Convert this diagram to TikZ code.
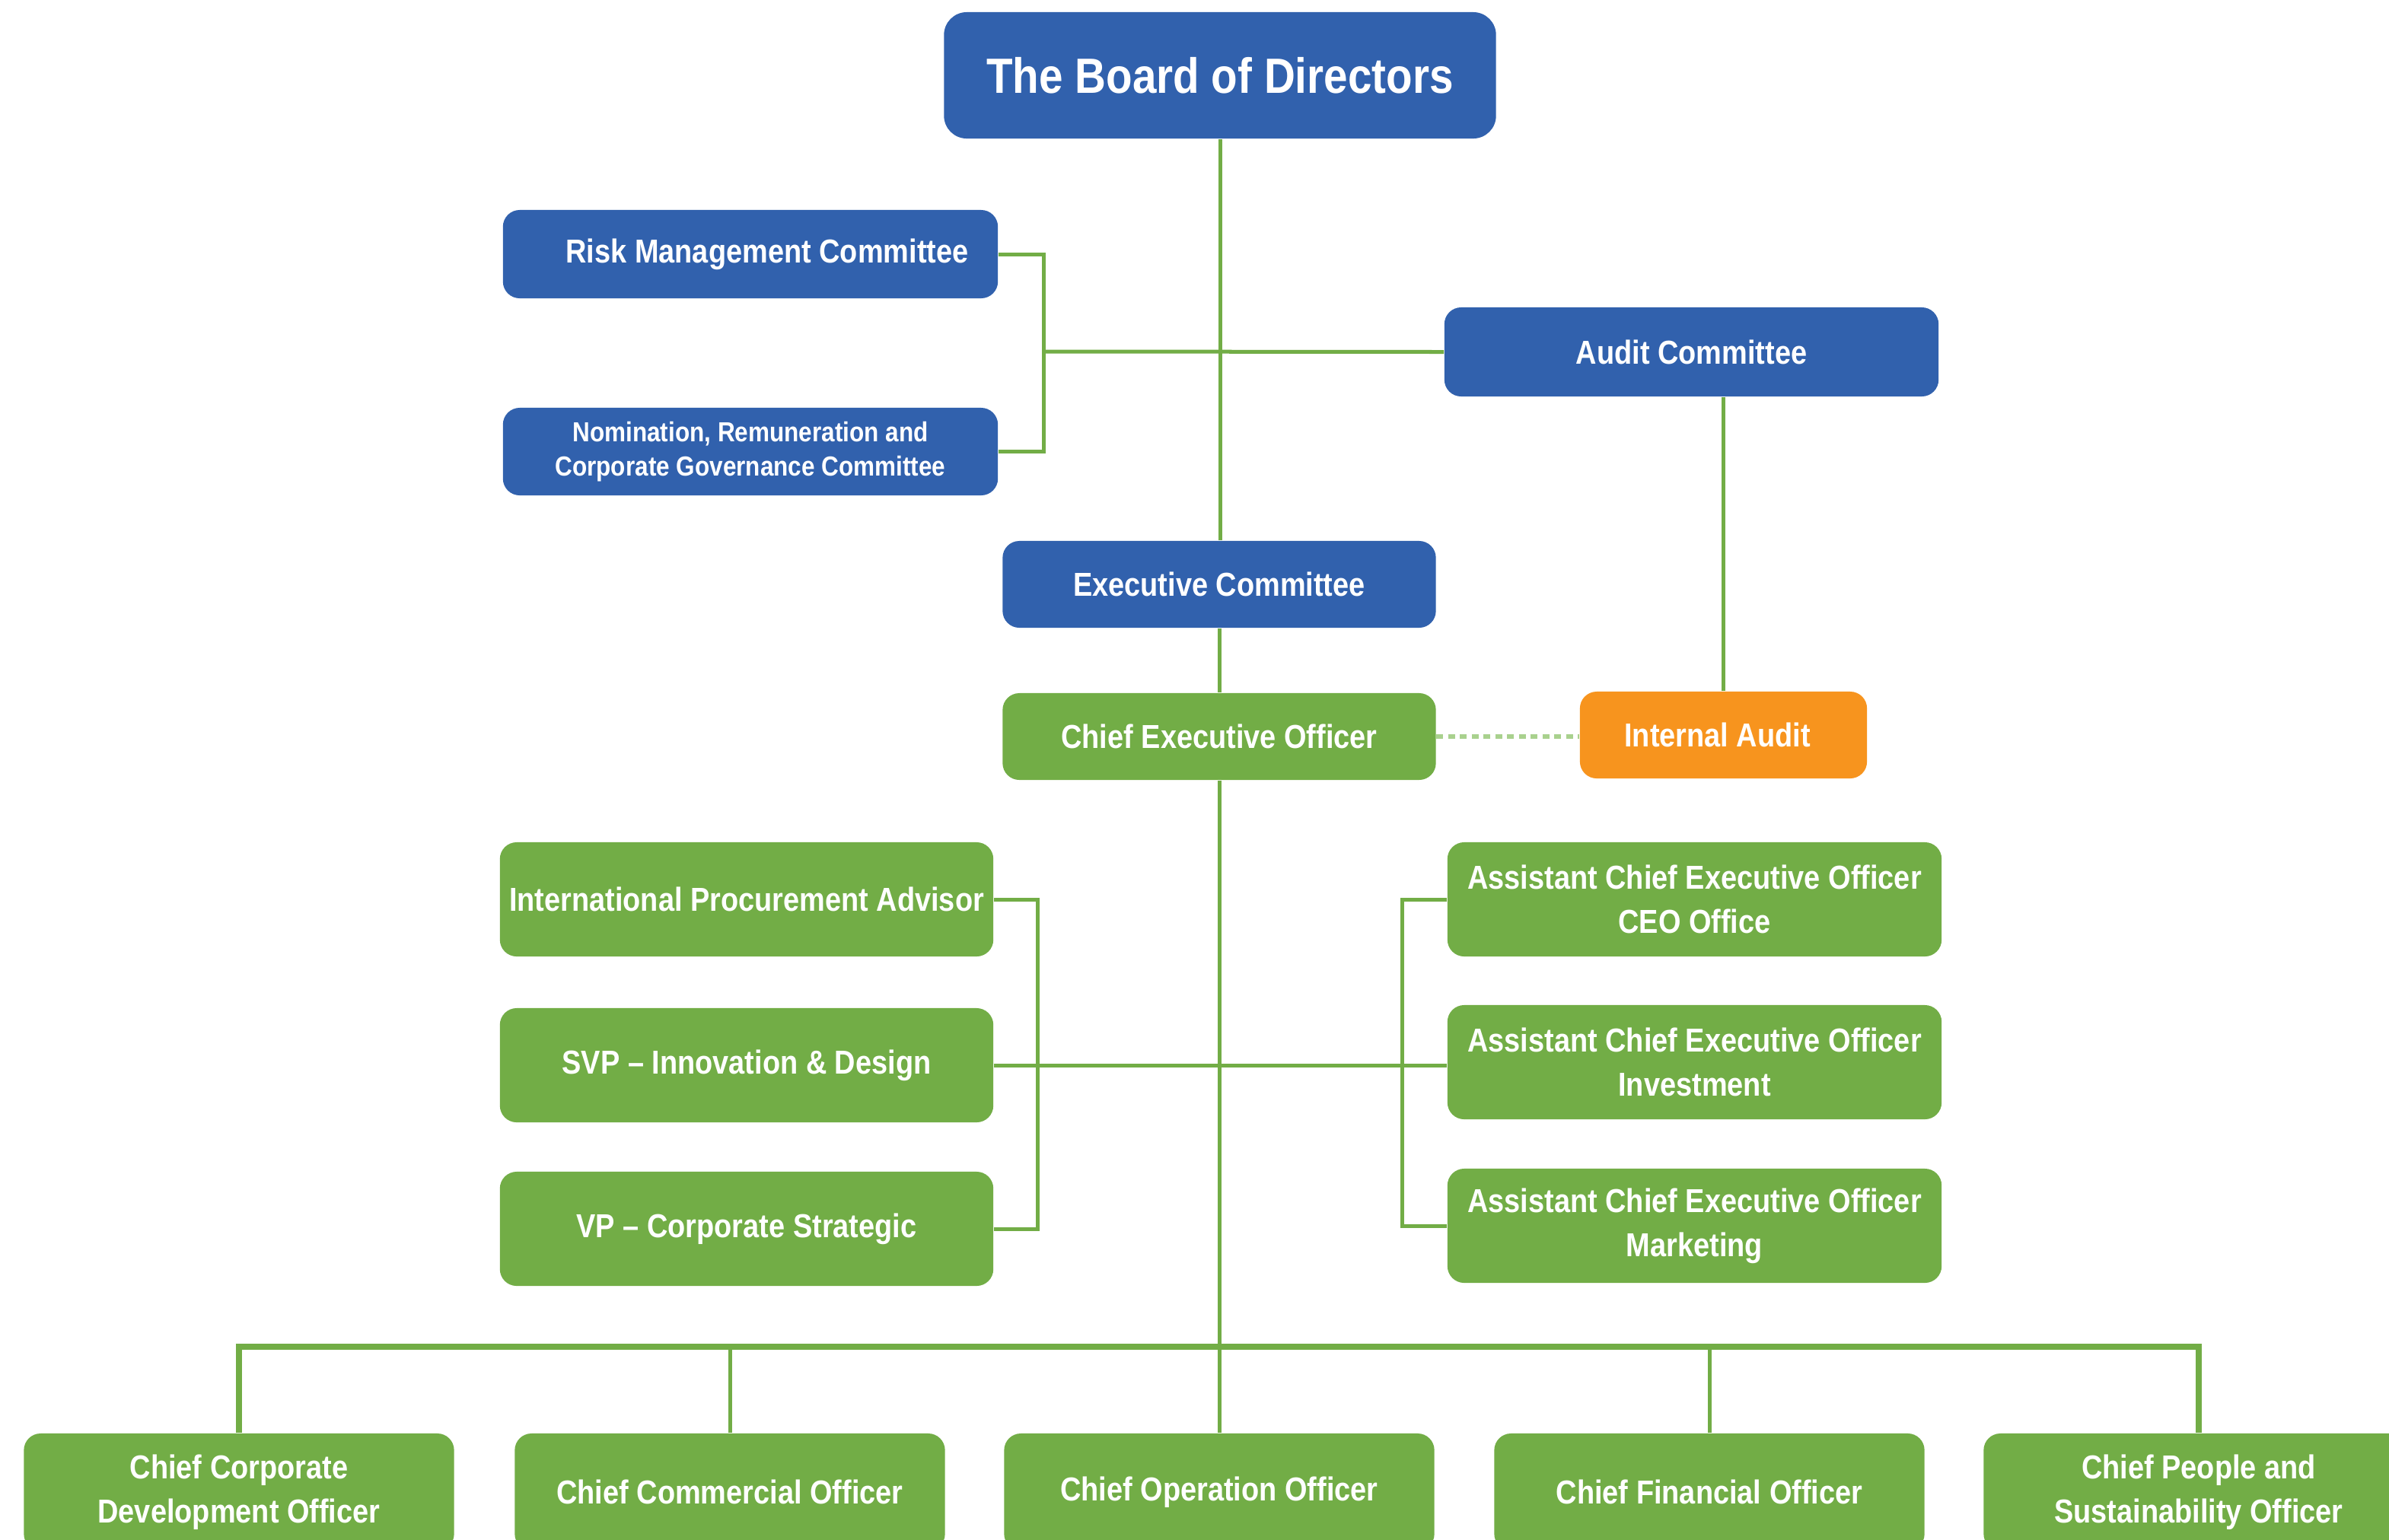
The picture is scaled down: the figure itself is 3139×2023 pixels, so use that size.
\documentclass[tikz,border=0pt]{standalone}
\usepackage{fontspec}
\newfontfamily\cfont[FakeStretch=0.87,Ligatures=TeX]{Liberation Sans}
\definecolor{cblue}{RGB}{49,97,173}
\definecolor{cgreen}{RGB}{114,173,70}
\definecolor{corange}{RGB}{247,148,30}
\definecolor{cdot}{RGB}{169,209,142}
\tikzset{
  box/.style={rectangle, rounded corners=0.22cm, text=white, align=center, inner sep=0pt,
    font=\cfont\bfseries\fontsize{12.4}{16.5}\selectfont},
  bluebox/.style={box, fill=cblue},
  greenbox/.style={box, fill=cgreen},
  orangebox/.style={box, fill=corange},
  link/.style={draw=cgreen, line width=0.05cm},
  buslink/.style={draw=cgreen, line width=0.075cm},
  dotlink/.style={draw=cdot, line width=0.06cm, dash pattern=on 0.09cm off 0.065cm},
}
\begin{document}
\begin{tikzpicture}[x=0.01cm, y=-0.01cm]
\clip (0,0) rectangle (3139,2023);
\fill[white] (0,0) rectangle (3139,2023);
% nodes
\node[bluebox, minimum width=7.25cm, minimum height=1.66cm, rounded corners=0.3cm,
  font=\cfont\bfseries\fontsize{18.5}{22}\selectfont] (board) at (1603,99) {The Board of Directors};
\node[bluebox, minimum width=6.5cm, minimum height=1.16cm] (risk) at (986,334) {\hspace*{0.44cm}Risk Management Committee};
\node[bluebox, minimum width=6.5cm, minimum height=1.15cm,
  font=\cfont\bfseries\fontsize{10.3}{13}\selectfont] (nom) at (986,593.5) {Nomination, Remuneration and\\Corporate Governance Committee};
\node[bluebox, minimum width=6.49cm, minimum height=1.17cm] (audit) at (2222.5,462.5) {Audit Committee};
\node[bluebox, minimum width=5.69cm, minimum height=1.14cm] (exec) at (1602,768) {Executive Committee};
\node[greenbox, minimum width=5.69cm, minimum height=1.14cm] (ceo) at (1602,968) {Chief Executive Officer};
\node[orangebox, minimum width=3.77cm, minimum height=1.14cm] (ia) at (2264.5,966) {Internal Audit\hspace*{0.16cm}};
\node[greenbox, minimum width=6.48cm, minimum height=1.5cm] (ipa) at (981,1182) {International Procurement Advisor};
\node[greenbox, minimum width=6.48cm, minimum height=1.5cm] (svp) at (981,1400) {SVP -- Innovation \& Design};
\node[greenbox, minimum width=6.48cm, minimum height=1.5cm] (vp) at (981,1615) {VP -- Corporate Strategic};
\node[greenbox, minimum width=6.49cm, minimum height=1.5cm] (a1) at (2226.5,1182) {Assistant Chief Executive Officer\\CEO Office};
\node[greenbox, minimum width=6.49cm, minimum height=1.5cm] (a2) at (2226.5,1396) {Assistant Chief Executive Officer\\Investment};
\node[greenbox, minimum width=6.49cm, minimum height=1.5cm] (a3) at (2226.5,1611) {Assistant Chief Executive Officer\\Marketing};
\node[greenbox, minimum width=5.65cm, minimum height=1.54cm] (ccdo) at (314,1961) {Chief Corporate\\Development Officer};
\node[greenbox, minimum width=5.65cm, minimum height=1.54cm] (cco) at (959,1961) {Chief Commercial Officer};
\node[greenbox, minimum width=5.65cm, minimum height=1.54cm] (coo) at (1602,1961) {Chief Operation Officer};
\node[greenbox, minimum width=5.65cm, minimum height=1.54cm] (cfo) at (2246,1961) {Chief Financial Officer};
\node[greenbox, minimum width=5.65cm, minimum height=1.54cm] (cpso) at (2889,1961) {Chief People and\\Sustainability Officer};
% coordinates
\coordinate (kj) at (1371,462);
\coordinate (lb) at (1363,1400);
\coordinate (rb) at (1842,1400);
\coordinate (bus) at (1602,1770);
% connectors
\draw[link] (board.south) -- (board.south |- exec.north);
\draw[link] (risk.east) -| (kj);
\draw[link] (nom.east) -| (kj);
\draw[link] (kj) -- (audit.west);
\draw[link] (ia.north) -- (ia.north |- audit.south);
\draw[link] (exec.south) -- (ceo.north);
\draw[dotlink] (ceo.east) -- (ceo.east -| ia.west);
\draw[link] (ceo.south) -- (bus);
\draw[link] (bus) -- (coo.north);
\draw[link] (ipa.east) -- (lb |- ipa.east) -- (lb |- vp.east) -- (vp.east);
\draw[link] (a1.west) -- (rb |- a1.west) -- (rb |- a3.west) -- (a3.west);
\draw[link] (svp.east) -- (svp.east -| a2.west);
\draw[buslink] (ccdo.north) |- (bus) -| (cpso.north);
\draw[link] (cco.north) -- (cco.north |- bus);
\draw[link] (cfo.north) -- (cfo.north |- bus);
\end{tikzpicture}
\end{document}
